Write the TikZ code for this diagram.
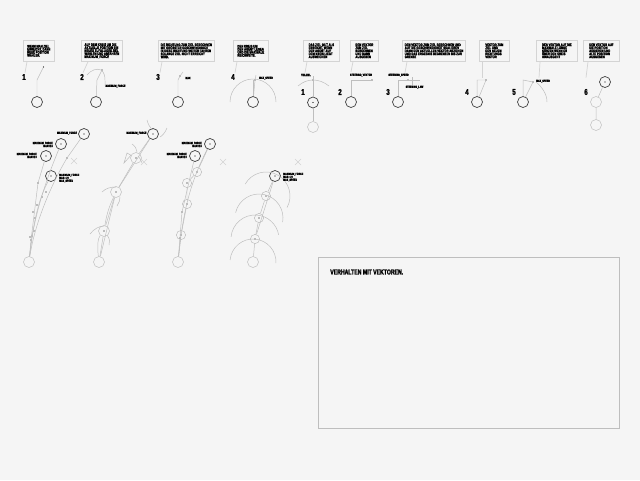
\documentclass[tikz,border=0pt]{standalone}
\usepackage{fontspec}
\setmainfont[FakeStretch=0.72,BoldFeatures={FakeBold=2}]{Liberation Sans}
\usetikzlibrary{calc,positioning}
\definecolor{paper}{HTML}{F5F5F5}
\definecolor{framegray}{HTML}{D4D4D4}
\definecolor{tracegray}{HTML}{BEBEBE}
\definecolor{agentgray}{HTML}{404040}
\lineskiplimit=-5pt

\begin{document}
\begin{tikzpicture}[x=0.25mm,y=-0.25mm,font=\bfseries]
  \tikzset{
    bubble/.style={draw=framegray,line width=0.5pt,inner xsep=0.6mm,inner ysep=0.4mm,anchor=north west,align=left,minimum height=5.25mm,font=\fontsize{2.7}{2.15}\bfseries\selectfont},
    stepno/.style={font=\fontsize{6}{6}\bfseries\selectfont,inner sep=0pt},
    tag/.style={font=\fontsize{2.2}{2.1}\bfseries\selectfont,inner sep=0pt,align=left},
    agent/.style={circle,draw=agentgray,line width=0.5pt,minimum size=2.75mm,inner sep=0pt},
    ghost/.style={circle,draw=tracegray,line width=0.35pt,minimum size=2.75mm,inner sep=0pt},
    dim/.style={ghost,minimum size=2.3mm},
    probe/.style={circle,fill=black,minimum size=0.35mm,inner sep=0pt},
    trace/.style={draw=tracegray,line width=0.35pt},
    tail/.style={draw=framegray,line width=0.5pt},
    cross/.style={draw=framegray,line width=0.4pt}
  }
  \path[fill=paper] (0,0) rectangle (640,480);

  % Upper row, left group
  \node[bubble,minimum width=7.75mm] (b1) at (23,40)
    {WENN MAN ZIEL\\ERREICHT, DANN\\NEUE POSITION\\WÄHLEN.};
  \node[bubble,minimum width=10.25mm] (b2) at (81,40)
    {AUF DEM KREIS UM DIE\\AKTUELLE POSITION EIN\\NEUES ZUFÄLLIGES ZIEL\\WÄHLEN UND ANFAHREN\\MAXIMUM\_FORCE};
  \node[bubble,minimum width=13.75mm] (b3) at (158,40)
    {DIE RICHTUNG ZUM ZIEL BERECHNEN\\MIT GRÖSSTER GESCHWINDIGKEIT\\IN DIESE RICHTUNG WEITER FAHREN\\SOLANGE ZIEL NICHT ERREICHT\\WIRD.};
  \node[bubble,minimum width=8.75mm] (b4) at (233,40)
    {DEN KREIS UM\\DEN AGENT LEGEN\\UND DIE MAXIMALE\\REICHWEITE.};
  \node[stepno] (n1) at (24,77) {1};
  \node[stepno] (n2) at (82,77) {2};
  \node[stepno] (n3) at (158,77) {3};
  \node[stepno] (n4) at (233,77) {4};
  \draw[tail] ($(b1.south west)+(4,0)$) -- ++(-2,11);
  \draw[tail] ($(b2.south west)+(7,0)$) -- ++(-5,11);
  \draw[tail] ($(b3.south west)+(4,0)$) -- ++(-2,11);
  \draw[tail] ($(b4.south west)+(4,0)$) -- ++(-2,11);

  \node[agent] (a1) at (37,102) {};
  \node[probe] (t1) at (43.5,67) {};
  \draw[trace] (a1) -- (37,80) -- (t1);
  \node[agent] (a2) at (96,102) {};
  \node[probe] (t2) at (102,70) {};
  \draw[trace] (a2) -- (97,80) -- (t2);
  \draw[trace] (87,75) .. controls (91,70) and (97,68) .. (101,70) .. controls (104,72) and (105,76) .. (105,80);
  \node[tag] (l2) at (115.5,86) {MAXIMUM\_FORCE};
  \draw[trace] (105,80) .. controls (105,84) .. (l2.west);
  \node[agent] (a3) at (178,102) {};
  \node[probe] (t3) at (180,76) {};
  \draw[trace] (a3) -- (178,80) -- (t3) -- (183,72);
  \node[tag] (l3) at (188,78) {MAX};
  \node[agent] (a4) at (253,102) {};
  \node[probe] (t4) at (255,80) {};
  \draw[trace] (a4) -- (t4) -- (256,75);
  \draw[trace] (a4) -- (253,80);
  \draw[trace] (230,102) arc[start angle=-180,end angle=0,radius=23];
  \node[tag] (l4) at (266,78) {MAX\_SPEED};

  % Upper row, right group
  \node[bubble,minimum width=9mm] (b5) at (303,40)
    {DAS ZIEL GILT ALS\\ERREICHT, WENN\\DER AGENT AUF\\DEM KREIS LIEGT\\AUSWEICHEN};
  \node[bubble,minimum width=7mm] (b6) at (350,40)
    {DEN VEKTOR\\ZUM ZIEL\\BERECHNEN\\UND DANN\\AUSGEBEN};
  \node[bubble,minimum width=15.75mm] (b7) at (402,40)
    {DEN VEKTOR ZUM ZIEL BERECHNEN UND\\AUF DIE GESCHWINDIGKEIT SKALIEREN\\DANN DEN AKTUELLEN VEKTOR ABZIEHEN\\UND DAS ERGEBNIS BEGRENZEN BIS ZUR\\GRENZE};
  \node[bubble,minimum width=7.5mm] (b8) at (479,40)
    {VEKTOR ZUM\\ZIEL UND\\DEN NEUEN\\RICHTUNGS\\VEKTOR};
  \node[bubble,minimum width=10.25mm] (b9) at (536,40)
    {DEN VEKTOR AUF DIE\\MAXIMALE LÄNGE\\KÜRZEN WENN ER\\ÜBER DEN KREIS\\HINAUSGEHT};
  \node[bubble,minimum width=9mm] (b10) at (583,40)
    {DEN VEKTOR AUF\\DIE POSITION\\ADDIEREN UND\\ALTE POSITION\\AUSGEBEN};
  \node[stepno] (n5) at (303,92) {1};
  \node[stepno] (n6) at (340,92) {2};
  \node[stepno] (n7) at (388,92) {3};
  \node[stepno] (n8) at (467,92) {4};
  \node[stepno] (n9) at (514,92) {5};
  \node[stepno] (n10) at (586,92) {6};
  \draw[tail] ($(b5.south west)+(4,0)$) -- ++(-2,11);
  \draw[tail] ($(b6.south west)+(3,0)$) -- ++(-2,10);
  \draw[tail] ($(b7.south west)+(5,0)$) -- ++(-2,11);
  \draw[tail] ($(b8.south west)+(3,0)$) -- ++(0,16);
  \draw[tail] ($(b9.south west)+(4,0)$) -- ++(-1,16);
  \draw[tail] ($(b10.south west)+(5,0)$) -- ++(-2,16);

  \node[agent] (a5) at (313,102.5) {};
  \node[ghost] (g5) at (313,127) {};
  \node[probe] (d5) at (313,102.5) {};
  \node[probe] (t5) at (313,80) {};
  \node[tag] (l5) at (306,75) {TEILZIEL};
  \draw[trace] (g5) -- (a5) -- (t5) -- (313,76);
  \draw[trace] (298,86) .. controls (307,78) and (319,78) .. (329,86);

  \node[agent] (a6) at (351,102) {};
  \node[probe] (t6) at (372,80) {};
  \node[tag] (l6) at (361,75) {STEERING\_VEKTOR};
  \draw[trace] (a6) -- (351,80) -- (t6);

  \node[agent] (a7) at (398,102) {};
  \node[probe] (t7) at (408,80) {};
  \node[tag] (l7) at (398.5,75) {STEERING\_SPEED};
  \node[tag] (l7b) at (414.5,87) {STEERING\_LAW};
  \draw[trace] (a7) -- (398,80) -- (t7) -- (420,80);
  \draw[trace] (412,77) -- (412,85);

  \node[agent] (a8) at (477,102) {};
  \node[probe] (t8) at (486,80) {};
  \draw[trace] (a8) -- (477,80) -- (t8) -- (a8);

  \node[agent] (a9) at (523,102) {};
  \node[probe] (t9) at (533,82) {};
  \node[tag] (l9) at (543,81) {MAX\_SPEED};
  \draw[trace] (a9) -- (523,80) -- (t9) -- (a9);
  \draw[trace] (536,82) .. controls (542,87) and (547,94) .. (547,102);

  \node[agent] (a10) at (605,82) {};
  \node[probe] (d10) at (605,82) {};
  \node[ghost] (g10a) at (596,102) {};
  \node[ghost] (g10b) at (596,125) {};
  \draw[trace] (a10) -- (g10a) -- (g10b);

  % Lower row, first figure
  \node[ghost] (f1base) at (29,262) {};
  \node[agent] (f1a) at (84,134) {};
  \node[agent] (f1b) at (61,144) {};
  \node[agent] (f1c) at (46,156) {};
  \node[agent] (f1d) at (51,176) {};
  \foreach \name in {f1a,f1b,f1c,f1d}
    \node[probe] at (\name) {};
  \foreach \x/\y in {67/158,38/183,46/192,42/197,37/205,33/212,35/218,34/231,32/236,30/237,31/240}
    \node[probe] at (\x,\y) {};
  \draw[trace] (f1base) -- (31,240) -- (38,183) -- (f1c);
  \draw[trace] (f1base) .. controls (33,222) and (42,190) .. (f1b);
  \draw[trace] (f1base) .. controls (34,228) and (48,190) .. (67,158) -- (f1a);
  \draw[trace] (f1base) .. controls (33,225) and (38,200) .. (f1d);
  \node[tag] (f1la) at (67,133) {MAXIMUM\_FORCE};
  \node[tag,anchor=east] (f1lb) at (53,144.5) {MAXIMUM\_FORCE\\\hfill MAX=2.5};
  \node[tag,anchor=east] (f1lc) at (37,155.5) {MAXIMUM\_FORCE\\\hfill MAX=2.0};
  \node[tag,anchor=west] (f1ld) at (59,178) {MAXIMUM\_FORCE\\MAX=1.0\\MAX\_SPEED};
  \draw[cross] (71,158) -- (77,164) (71,164) -- (77,158);

  % Lower row, second figure
  \node[ghost] (f2base) at (99,262) {};
  \node[ghost] (f2p) at (104,231) {};
  \node[ghost] (f2q) at (116,192) {};
  \node[ghost] (f2r) at (136,158) {};
  \node[agent] (f2a) at (153,134) {};
  \foreach \name in {f2p,f2q,f2r,f2a}
    \node[probe] at (\name) {};
  \draw[trace] (f2base) -- (f2p) -- (f2q) -- (f2r) -- (f2a);
  \draw[trace] (f2base) .. controls (97,245) and (98,238) .. (f2p);
  \draw[trace] (f2p) .. controls (107,212) and (110,205) .. (f2q);
  \draw[trace] (f2base) -- (f2q) -- (f2a);
  \draw[trace] (90,234) .. controls (94,229) and (99,226) .. (104,226);
  \draw[trace] (107,235) .. controls (110,239) and (110,242) .. (109,245);
  \draw[trace] (102,192) .. controls (106,188) and (111,187) .. (116,187);
  \draw[trace] (120,197) .. controls (120,200) and (119,203) .. (117,206);
  \draw[trace] (132,144) .. controls (135,146) and (137,149) .. (137,152);
  \draw[trace] (142,163) .. controls (141,160) and (140,158) .. (138,156);
  \draw[trace] (147,120) .. controls (148,124) and (150,128) .. (153,130);
  \draw[trace] (167,128) .. controls (165,133) and (162,136) .. (160,137);
  \draw[trace] (f2r) -- (127,153) -- (124,163) -- cycle;
  \node[tag] (f2la) at (136.5,133) {MAXIMUM\_FORCE};
  \draw[cross] (141,159) -- (147,165) (141,165) -- (147,159);

  % Lower row, third figure
  \node[ghost] (f3base) at (178,262) {};
  \node[dim] (f3p) at (181,235) {};
  \node[dim] (f3q) at (187,204) {};
  \node[dim] (f3r) at (187,183) {};
  \node[dim] (f3s) at (197,172) {};
  \node[agent] (f3a) at (210,144) {};
  \node[agent] (f3b) at (195,156) {};
  \foreach \name in {f3p,f3q,f3r,f3s,f3a,f3b}
    \node[probe] at (\name) {};
  \node[probe] (f3m) at (182,212) {};
  \node[probe] (f3n) at (180,238) {};
  \draw[trace] (f3base) -- (f3m) -- (f3b);
  \draw[trace] (f3base) -- (f3p) -- (f3q) -- (f3r) -- (f3s) -- (f3a);
  \draw[trace] (f3base) .. controls (182,225) and (186,190) .. (f3a);
  \node[tag,anchor=east] (f3la) at (202,144.5) {MAXIMUM\_FORCE\\\hfill MAX=2.5};
  \node[tag,anchor=east] (f3lb) at (187,155.5) {MAXIMUM\_FORCE\\\hfill MAX=2.0};
  \draw[cross] (220,159) -- (226,165) (220,165) -- (226,159);

  % Lower row, fourth figure
  \node[ghost] (f4base) at (253,262) {};
  \node[dim] (f4p) at (255,239) {};
  \node[dim] (f4q) at (259,218) {};
  \node[dim] (f4r) at (266,196) {};
  \node[agent] (f4a) at (275,176) {};
  \foreach \name in {f4p,f4q,f4r,f4a}
    \node[probe] at (\name) {};
  \draw[trace] (f4base) -- (f4p) -- (f4q) -- (f4r) -- (f4a);
  \draw[trace] (f4p) -- (f4a);
  \draw[trace] (f4base) ++(-175:23) arc[start angle=-175,end angle=3,radius=23];
  \draw[trace] (f4p) ++(-175:24) arc[start angle=-175,end angle=-10,radius=24];
  \draw[trace] (f4q) ++(-167:24) arc[start angle=-167,end angle=10,radius=24];
  \draw[trace] (f4r) ++(-150:24) arc[start angle=-150,end angle=29,radius=24];
  \node[tag,anchor=west] (f4la) at (283,177) {MAXIMUM\_FORCE\\MAX=1.0\\MAX\_SPEED};
  \draw[cross] (295,159) -- (301,165) (295,165) -- (301,159);

  % Text panel
  \node[draw=tracegray,line width=0.4pt,anchor=north west,minimum width=75.25mm,minimum height=42.75mm] (panel) at (318,257) {};
  \node[anchor=west,inner sep=0pt,font=\fontsize{5.1}{5}\bfseries\selectfont] (panelhead) at (330,272) {VERHALTEN MIT VEKTOREN.};
\end{tikzpicture}
\end{document}
